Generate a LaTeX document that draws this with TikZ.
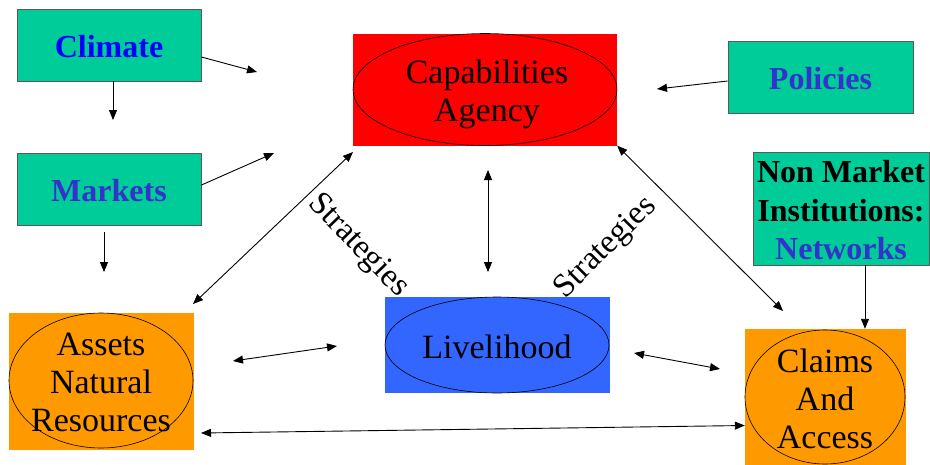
\documentclass[tikz,border=0pt]{standalone}
\usepackage{fontspec}
\setmainfont{Liberation Serif}
\usetikzlibrary{arrows.meta,shapes.geometric}
\definecolor{boxgreen}{HTML}{00CC99}
\definecolor{titleblue}{HTML}{0000FF}
\definecolor{slateblue}{HTML}{3333CC}
\definecolor{capred}{HTML}{FF0000}
\definecolor{assetorange}{HTML}{FF9900}
\definecolor{liveblue}{HTML}{3366FF}

\begin{document}
\begin{tikzpicture}[x=1pt,y=-1pt,
  greenbox/.style={draw=black!65, line width=0.9pt, fill=boxgreen, inner sep=0pt},
  boxtext/.style={inner sep=0pt, font=\fontsize{32}{38.5}\selectfont\bfseries, align=center},
  panel/.style={inner sep=0pt, draw=none},
  oval/.style={ellipse, draw=black, line width=0.6pt, inner sep=0pt},
  ovaltext/.style={inner sep=0pt, font=\fontsize{34}{38}\selectfont, align=center},
  link/.style={line width=0.9pt, -{Triangle[length=10pt,width=8pt]}},
  twoway/.style={line width=0.9pt, {Triangle[length=10pt,width=8pt]}-{Triangle[length=10pt,width=8pt]}},
  strat/.style={inner sep=0pt, font=\fontsize{33}{38}\selectfont}
]
\useasboundingbox (0,0) rectangle (930,464);

% outside influences
\node[greenbox, minimum width=184pt, minimum height=72pt] (climate) at (109,45) {};
\node[boxtext, text=titleblue] (climtext) at (109,47) {Climate};
\node[greenbox, minimum width=184pt, minimum height=72pt] (markets) at (109,189) {};
\node[boxtext, text=slateblue] (marktext) at (109,191) {Markets};
\node[greenbox, minimum width=185pt, minimum height=72pt] (policies) at (820.5,77) {};
\node[boxtext, text=slateblue] (poltext) at (820.5,79) {Policies};
\node[greenbox, minimum width=176pt, minimum height=113pt] (networks) at (841,208.5) {};
\node[boxtext] (nettext) at (841,210.5) {Non Market\\Institutions:\\\textcolor{slateblue}{Networks}};

% central elements: coloured panel with an oval inside
\node[panel, fill=capred, minimum width=264pt, minimum height=112pt] (capbox) at (485,89.5) {};
\node[oval, minimum width=264pt, minimum height=112pt] (cap) at (485,89.5) {};
\node[ovaltext] (captext) at (487,94.5) {Capabilities\\Agency};

\node[panel, fill=assetorange, minimum width=185pt, minimum height=137pt] (assetbox) at (101.5,381.5) {};
\node[oval, minimum width=184pt, minimum height=135pt] (assets) at (101,380.5) {};
\node[ovaltext] (assettext) at (101,382) {Assets\\Natural\\Resources};

\node[panel, fill=liveblue, minimum width=225pt, minimum height=96pt] (livebox) at (497.5,345) {};
\node[oval, minimum width=224pt, minimum height=96pt] (live) at (497,345) {};
\node[ovaltext] (livetext) at (497,346.5) {Livelihood};

\node[panel, fill=assetorange, minimum width=161pt, minimum height=136pt] (claimbox) at (825.5,397) {};
\node[oval, minimum width=160pt, minimum height=134pt] (claims) at (825,397) {};
\node[ovaltext] (claimtext) at (825,398.5) {Claims\\And\\Access};

% strategy labels
\node[strat, rotate=-46] (stratL) at (358,246) {Strategies};
\node[strat, rotate=45] (stratR) at (606,248) {Strategies};

% free arrow ends
\coordinate (climA) at (257,72);
\coordinate (climB) at (113,120);
\coordinate (markA) at (274,153);
\coordinate (markS) at (104,232);
\coordinate (markB) at (104,272);
\coordinate (polA) at (657,89);
\coordinate (capSW) at (353,152);
\coordinate (assetNE) at (193,304);
\coordinate (capS) at (488,170);
\coordinate (liveN) at (488,272);
\coordinate (claimNW) at (783,311);
\coordinate (assetE) at (233,361);
\coordinate (liveW) at (337,346);
\coordinate (liveE) at (634,353);
\coordinate (claimW) at (720,369);
\coordinate (assetSE) at (201,433);

% connectors
\draw[link] ([yshift=-12pt]climate.east) -- (climA);
\draw[link] ([xshift=4pt]climate.south) -- (climB);
\draw[link] ([yshift=4pt]markets.east) -- (markA);
\draw[link] (markS) -- (markB);
\draw[link] ([yshift=-4pt]policies.west) -- (polA);
\draw[twoway] (capSW) -- (assetNE);
\draw[twoway] (capS) -- (liveN);
\draw[twoway] (capbox.south east) -- (claimNW);
\draw[link] ([xshift=24pt]networks.south) -- ([xshift=39.5pt]claimbox.north);
\draw[twoway] (assetE) -- (liveW);
\draw[twoway] (liveE) -- (claimW);
\draw[twoway] (assetSE) -- ([yshift=-28.5pt]claimbox.west);
\end{tikzpicture}
\end{document}
